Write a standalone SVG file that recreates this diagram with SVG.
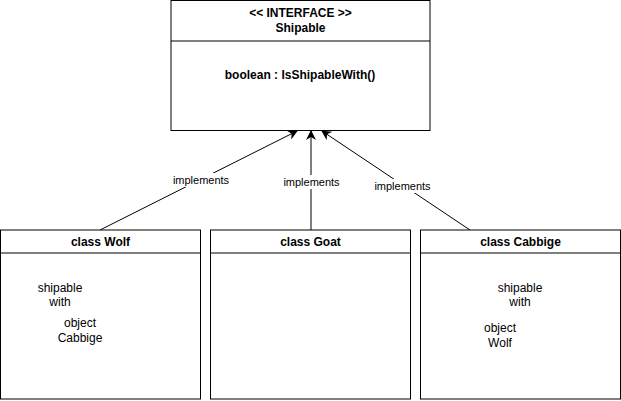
<svg xmlns="http://www.w3.org/2000/svg" width="621" height="401" viewBox="0 0 621 401">
<style>
.box{fill:#fff;stroke:#000;stroke-width:1}
.t{font-family:"Liberation Sans",Arial,sans-serif;font-size:12px;fill:#000;text-anchor:middle}
.b{font-weight:bold}
.lbl{font-family:"Liberation Sans",Arial,sans-serif;font-size:11px;fill:#000;text-anchor:middle}
.edge{stroke:#000;stroke-width:1;fill:none;marker-end:url(#arr)}
</style>
<defs>
<marker id="arr" viewBox="0 0 10 10" refX="9" refY="5" markerWidth="10" markerHeight="10" markerUnits="userSpaceOnUse" orient="auto">
<path d="M0,0 L10,5 L0,10 L3,5 Z" fill="#000"/>
</marker>
</defs>
<rect width="621" height="401" fill="#fff"/>
<g id="connectors">
<line class="edge" x1="100" y1="230" x2="297" y2="131"/>
<rect x="171" y="173" width="60" height="14" fill="#fff"/>
<text class="lbl" x="201" y="184">implements</text>
<line class="edge" x1="311" y1="230" x2="311" y2="131"/>
<rect x="281" y="175" width="60" height="14" fill="#fff"/>
<text class="lbl" x="311.5" y="186">implements</text>
<line class="edge" x1="470" y1="230" x2="322" y2="131"/>
<rect x="372" y="179" width="61" height="14" fill="#fff"/>
<text class="lbl" x="402.5" y="190">implements</text>
</g>
<g id="shipable">
<rect class="box" x="171" y="0.5" width="259" height="130"/>
<line x1="171" y1="41" x2="430" y2="41" stroke="#000"/>
<text class="t b" x="300.5" y="17">&lt;&lt; INTERFACE &gt;&gt;</text>
<text class="t b" x="300.5" y="32">Shipable</text>
<text class="t b" x="300" y="79">boolean : IsShipableWith()</text>
</g>
<g id="wolf">
<rect class="box" x="0.5" y="230" width="200" height="169"/>
<line x1="0.5" y1="253" x2="200.5" y2="253" stroke="#000"/>
<text class="t b" x="100.5" y="246">class Wolf</text>
<text class="t" x="60" y="292">shipable</text>
<text class="t" x="60" y="306">with</text>
<text class="t" x="80" y="327">object</text>
<text class="t" x="80" y="342">Cabbige</text>
</g>
<g id="goat">
<rect class="box" x="210.5" y="230" width="200" height="169"/>
<line x1="210.5" y1="253" x2="410.5" y2="253" stroke="#000"/>
<text class="t b" x="310.5" y="246">class Goat</text>
</g>
<g id="cabbige">
<rect class="box" x="420.5" y="230" width="200" height="169"/>
<line x1="420.5" y1="253" x2="620.5" y2="253" stroke="#000"/>
<text class="t b" x="520.5" y="246">class Cabbige</text>
<text class="t" x="520" y="292">shipable</text>
<text class="t" x="520" y="306">with</text>
<text class="t" x="500" y="332">object</text>
<text class="t" x="500" y="347">Wolf</text>
</g>
</svg>
